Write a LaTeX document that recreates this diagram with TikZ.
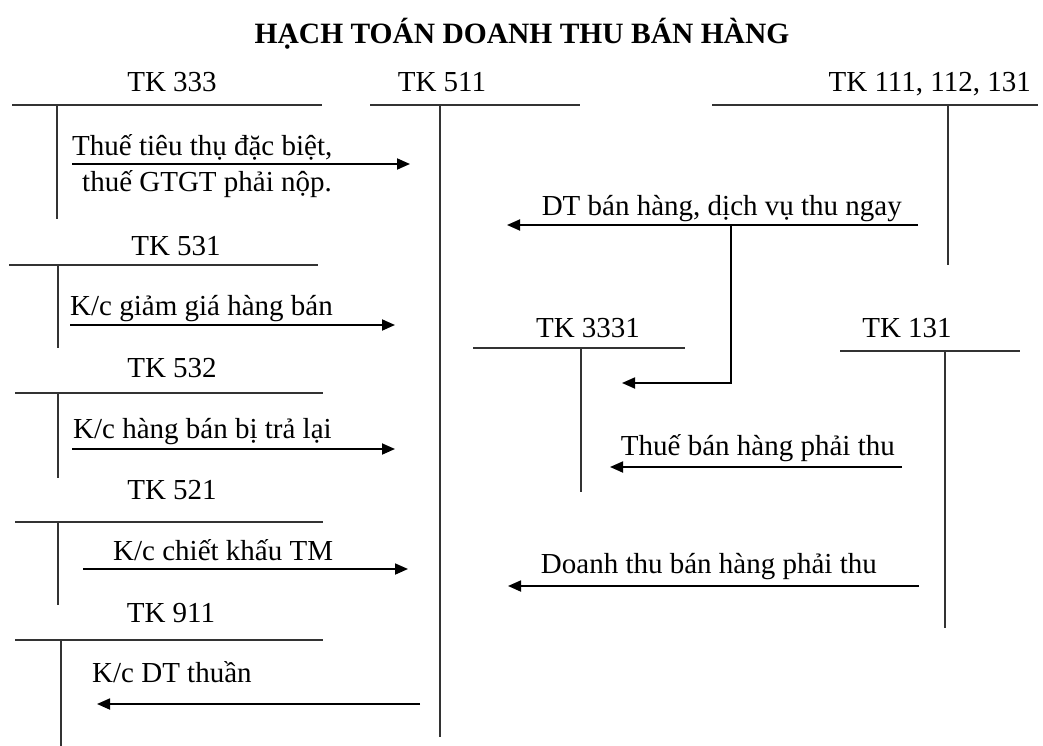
\documentclass[tikz,border=0pt]{standalone}
\usepackage{fontspec}
\setmainfont{Liberation Serif}
\usetikzlibrary{arrows.meta}

\begin{document}
\begin{tikzpicture}[
  x=1pt, y=-1pt,
  >={Triangle[length=13pt,width=11pt]},
  every node/.style={inner sep=0pt, font=\fontsize{29}{34}\selectfont},
  acct/.style={anchor=base},
  tline/.style={draw=black!80, line width=1.5pt},
  flow/.style={draw=black, line width=1.8pt, ->},
  lbl/.style={anchor=base west},
]
\useasboundingbox (0,0) rectangle (1043,746);

% --- Titel ---
\node[anchor=base, font=\fontsize{29.5}{34}\selectfont\bfseries] (title) at (522,44) {HẠCH TOÁN DOANH THU BÁN HÀNG};

% --- Tai khoan ben trai: 333, 531, 532, 521, 911 ---
\node[acct] (tk333) at (172,92) {TK 333};
\draw[tline] (12,105) -- (322,105);
\draw[tline] (57,105) -- (57,219);

\node[acct] (tk531) at (176,255) {TK 531};
\draw[tline] (9,265) -- (318,265);
\draw[tline] (58,265) -- (58,348);

\node[acct] (tk532) at (172,377) {TK 532};
\draw[tline] (15,393) -- (323,393);
\draw[tline] (58,393) -- (58,478);

\node[acct] (tk521) at (172,499) {TK 521};
\draw[tline] (15,522) -- (323,522);
\draw[tline] (58,522) -- (58,605);

\node[acct] (tk911) at (171,622) {TK 911};
\draw[tline] (15,640) -- (323,640);
\draw[tline] (61,640) -- (61,746);

% --- TK 511 (giua) ---
\node[acct] (tk511) at (442,92) {TK 511};
\draw[tline] (370,105) -- (580,105);
\draw[tline] (440,105) -- (440,737);

% --- Tai khoan ben phai: 111/112/131, 3331, 131 ---
\node[acct, anchor=base east] (tk111) at (1031,92) {TK 111, 112, 131};
\draw[tline] (712,105) -- (1038,105);
\draw[tline] (948,105) -- (948,265);

\node[acct] (tk3331) at (588,337) {TK 3331};
\draw[tline] (473,348) -- (685,348);
\draw[tline] (581,348) -- (581,492);

\node[acct] (tk131) at (907,337) {TK 131};
\draw[tline] (840,351) -- (1020,351);
\draw[tline] (945,351) -- (945,628);

% --- Ket chuyen vao TK 511 ---
\coordinate (ttdb-s) at (72,164);   \coordinate (ttdb-e) at (410,164);
\draw[flow] (ttdb-s) -- (ttdb-e);
\node[lbl] (ttdb1) at (72,156) {Thuế tiêu thụ đặc biệt,};
\node[lbl] (ttdb2) at (82,192) {thuế GTGT phải nộp.};

\coordinate (ggia-s) at (70,325);   \coordinate (ggia-e) at (395,325);
\draw[flow] (ggia-s) -- (ggia-e);
\node[lbl] (ggia) at (70,315) {K/c giảm giá hàng bán};

\coordinate (tralai-s) at (72,449); \coordinate (tralai-e) at (395,449);
\draw[flow] (tralai-s) -- (tralai-e);
\node[lbl] (tralai) at (73,438) {K/c hàng bán bị trả lại};

\coordinate (ckhau-s) at (83,569);  \coordinate (ckhau-e) at (408,569);
\draw[flow] (ckhau-s) -- (ckhau-e);
\node[lbl] (ckhau) at (113,560) {K/c chiết khấu TM};

\coordinate (dtt-s) at (420,704);   \coordinate (dtt-e) at (97,704);
\draw[flow] (dtt-s) -- (dtt-e);
\node[lbl] (dtt) at (92,682) {K/c DT thuần};

% --- Doanh thu thu ngay, tach thue sang TK 3331 ---
\coordinate (thungay-s) at (918,225); \coordinate (thungay-e) at (507,225);
\draw[flow] (thungay-s) -- (thungay-e);
\node[anchor=base east] (thungay) at (902,215) {DT bán hàng, dịch vụ thu ngay};
\coordinate (tach) at (731,225);    \coordinate (tach-e) at (622,383);
\draw[flow] (tach) |- (tach-e);

% --- Ban chiu qua TK 131 ---
\coordinate (thue-s) at (902,467);  \coordinate (thue-e) at (610,467);
\draw[flow] (thue-s) -- (thue-e);
\node[anchor=base east] (thue) at (895,455) {Thuế bán hàng phải thu};

\coordinate (dtpt-s) at (919,586);  \coordinate (dtpt-e) at (508,586);
\draw[flow] (dtpt-s) -- (dtpt-e);
\node[anchor=base east] (dtpt) at (877,573) {Doanh thu bán hàng phải thu};

\end{tikzpicture}
\end{document}
